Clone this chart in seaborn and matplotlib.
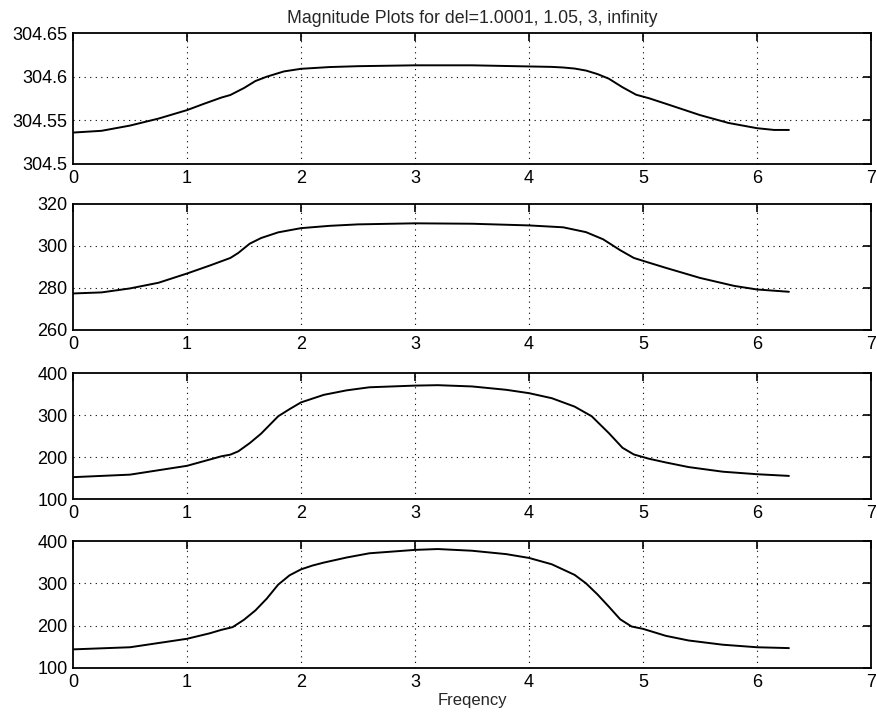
import numpy as np
import pandas as pd
import matplotlib
matplotlib.use('Agg')
import matplotlib.pyplot as plt
import seaborn as sns

# ------------------------------------------------------------------
# Data (frequency vs magnitude, one per del)
# ------------------------------------------------------------------
freq_1 = [0.0, 0.25, 0.5, 0.75, 1.0, 1.15, 1.3, 1.38, 1.5, 1.6, 1.7, 1.85,
          2.0, 2.25, 2.5, 3.0, 3.5, 4.0, 4.2, 4.3, 4.4, 4.5, 4.6, 4.7,
          4.82, 4.94, 5.05, 5.2, 5.5, 5.75, 6.0, 6.15, 6.28]
mag_1 = [304.536, 304.538, 304.544, 304.552, 304.5617, 304.569, 304.576,
         304.579, 304.587, 304.595, 304.600, 304.606, 304.609, 304.611,
         304.612, 304.613, 304.613, 304.6117, 304.6112, 304.6105, 304.6093,
         304.607, 304.603, 304.5977, 304.5879, 304.5793, 304.5754, 304.569,
         304.556, 304.547, 304.541, 304.539, 304.539]

freq_2 = [0.0, 0.25, 0.5, 0.75, 1.0, 1.2, 1.3, 1.38, 1.45, 1.55, 1.65, 1.8,
          2.0, 2.25, 2.5, 3.0, 3.5, 4.0, 4.3, 4.5, 4.65, 4.8, 4.92, 5.05,
          5.2, 5.5, 5.8, 6.0, 6.28]
mag_2 = [277.4, 277.9, 279.8, 282.5, 286.9, 290.7, 292.7, 294.3, 296.7,
         301.1, 303.8, 306.5, 308.5, 309.6, 310.3, 310.8, 310.6, 309.8,
         308.9, 306.6, 303.2, 298.0, 294.3, 292.1, 289.6, 284.8, 281.0,
         279.3, 278.2]

freq_3 = [0.0, 0.5, 1.0, 1.2, 1.3, 1.38, 1.45, 1.55, 1.65, 1.8, 1.9, 2.0,
          2.2, 2.4, 2.6, 3.0, 3.2, 3.5, 3.8, 4.0, 4.2, 4.4, 4.55, 4.7,
          4.82, 4.92, 5.05, 5.2, 5.4, 5.7, 6.0, 6.28]
mag_3 = [152, 158, 179, 194, 201.6, 205.6, 213.5, 233, 255.6, 297, 314, 330,
         348, 358.7, 366, 370, 371, 368, 360, 352, 340, 320, 297, 257,
         222, 206, 196, 187, 176, 165, 159, 155]

freq_4 = [0.0, 0.5, 1.0, 1.2, 1.3, 1.4, 1.5, 1.6, 1.7, 1.8, 1.9, 2.0,
          2.1, 2.2, 2.4, 2.6, 2.8, 3.0, 3.2, 3.5, 3.8, 4.0, 4.2, 4.4, 4.5,
          4.6, 4.7, 4.8, 4.9, 5.0, 5.2, 5.4, 5.7, 6.0, 6.28]
mag_4 = [144, 149, 169, 182, 190, 196.5, 214, 236, 264, 297, 319, 333,
         342, 349, 361, 371, 375, 379, 381, 377, 369, 360, 345, 320, 300,
         274, 245, 215, 198, 192.5, 176, 165, 155, 149, 147]

ylims = [(304.5, 304.65), (260, 320), (100, 400), (100, 400)]
yticks = [[304.5, 304.55, 304.6, 304.65], [260, 280, 300, 320],
          [100, 200, 300, 400], [100, 200, 300, 400]]
ytick_labels = [['304.5', '304.55', '304.6', '304.65'],
                ['260', '280', '300', '320'],
                ['100', '200', '300', '400'],
                ['100', '200', '300', '400']]
xticks = [0, 1, 2, 3, 4, 5, 6, 7]

title = 'Magnitude Plots for del=1.0001, 1.05, 3, infinity'
xlabel = 'Freqency'

series = [(freq_1, mag_1), (freq_2, mag_2), (freq_3, mag_3), (freq_4, mag_4)]

sns.set_style('white')
plt.rcParams['font.family'] = ['Liberation Sans', 'DejaVu Sans']

W, H = 878, 717
fig = plt.figure(figsize=(W / 100, H / 100), dpi=100)

# panel boxes in pixels (top, bottom)
boxes = [(33, 164), (204, 330), (373, 499), (541, 668)]
left_px, right_px = 73, 871

for k, ((fx, my), (top, bot)) in enumerate(zip(series, boxes)):
    ax = fig.add_axes([left_px / W, 1 - bot / H,
                       (right_px - left_px) / W, (bot - top) / H])
    df = pd.DataFrame({'freq': fx, 'mag': my})
    sns.lineplot(data=df, x='freq', y='mag', ax=ax, color='black',
                 linewidth=1.4, estimator=None, sort=False)
    ax.set_xlim(0, 7)
    ax.set_ylim(*ylims[k])
    ax.set_xticks(xticks)
    ax.set_xticklabels([str(t) for t in xticks])
    ax.set_yticks(yticks[k])
    ax.set_yticklabels(ytick_labels[k])
    ax.set_xlabel('')
    ax.set_ylabel('')
    ax.tick_params(direction='in', length=6, width=1.2, top=True, right=True,
                   labelsize=13, pad=4, colors='black')
    for sp in ax.spines.values():
        sp.set_visible(True)
        sp.set_color('black')
        sp.set_linewidth(1.3)
    # dotted grid, interior lines only
    for gx in xticks[1:-1]:
        ax.axvline(gx, color='black', linestyle=(0, (1, 4)), linewidth=0.8,
                   zorder=0)
    for gy in yticks[k][1:-1]:
        ax.axhline(gy, color='black', linestyle=(0, (1, 4)), linewidth=0.8,
                   zorder=0)
    if k == 0:
        ax.set_title(title, fontsize=12.8, pad=7)
    if k == 3:
        ax.set_xlabel(xlabel, fontsize=12, labelpad=2)

fig.savefig('out.png', dpi=100)
